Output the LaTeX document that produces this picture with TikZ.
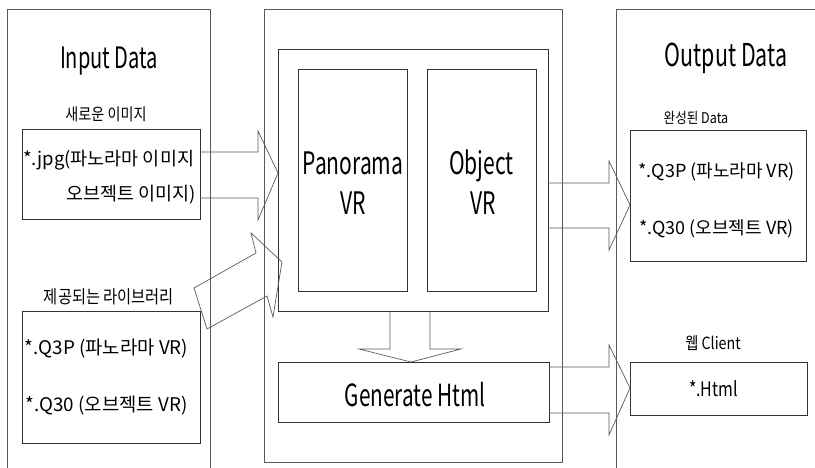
\documentclass[tikz,border=0pt]{standalone}
\usepackage{fontspec}
\setmainfont{Noto Sans CJK KR}
\newfontfamily\ttlfont[FakeStretch=0.68]{Noto Sans CJK KR}
\newfontfamily\lblfont[FakeStretch=0.85]{Noto Sans CJK KR}
\newfontfamily\htmfont[FakeStretch=0.8]{Noto Sans CJK KR}
\begin{document}
\begin{tikzpicture}[x=1pt,y=-1pt,
  panel/.style={draw=black!65, line width=0.7pt},
  box/.style={draw=black!80, line width=0.8pt, rectangle, inner sep=0pt},
  barrow/.style={draw=black!65, line width=0.7pt, line join=miter},
  ttl/.style={font=\ttlfont\fontsize{31}{33}\selectfont, anchor=base, inner sep=0pt},
  lbl/.style={font=\lblfont\fontsize{16}{18}\selectfont, anchor=base, inner sep=0pt},
  txt/.style={font=\fontsize{18.5}{20}\selectfont, anchor=base, inner sep=0pt}]
\useasboundingbox (0,0) rectangle (815,468);
% panels
\draw[panel] (7,468) -- (7,9) -- (210,9) -- (210,468);
\node[panel, rectangle, minimum width=298pt, minimum height=453pt, inner sep=0pt] (mid) at (413,235.5) {};
\draw[panel] (616,468) -- (616,9) -- (815,9);
% boxes
\node[box, minimum width=178pt, minimum height=90pt] (jpg) at (111,174.5) {};
\node[box, minimum width=178pt, minimum height=132pt] (lib) at (111,377) {};
\node[box, minimum width=270pt, minimum height=262pt] (vr) at (413,180) {};
\node[box, minimum width=109pt, minimum height=222pt] (pano) at (352.5,180) {};
\node[box, minimum width=109pt, minimum height=222pt] (obj) at (481.5,180) {};
\node[box, minimum width=271pt, minimum height=60pt] (gen) at (413.5,392) {};
\node[box, minimum width=176pt, minimum height=131pt] (done) at (718,195.5) {};
\node[box, minimum width=177pt, minimum height=53pt] (html) at (718.5,388.5) {};
% block arrows
\draw[barrow] (200,152) -- (258,152) -- (258,131) -- (278,173) -- (258,220) -- (258,198) -- (200,198);
\draw[barrow] (194,288) -- (256,253) -- (251,233) -- (282,262) -- (273,317) -- (267,296) -- (207,329) -- cycle;
\draw[barrow] (548,183) -- (609,183) -- (609,161) -- (630,205) -- (609,250) -- (609,228) -- (548,228);
\draw[barrow] (390,311) -- (390,349) -- (359,349) -- (411,362) -- (461,349) -- (430,349) -- (430,311);
\draw[barrow] (549,367) -- (609,367) -- (609,345) -- (630,388) -- (609,435) -- (609,413) -- (549,413);
% titles
\node[ttl, font=\ttlfont\fontsize{29.5}{32}\selectfont] (tin) at (109,69) {Input Data};
\node[ttl, font=\ttlfont\fontsize{31.5}{33}\selectfont] (tout) at (726,67) {Output Data};
\node[ttl] (tpano1) at (353,175) {Panorama};
\node[ttl] (tpano2) at (353,215) {VR};
\node[ttl] (tobj1) at (481.5,175) {Object};
\node[ttl] (tobj2) at (483,215) {VR};
\node[ttl, font=\ttlfont\fontsize{30.5}{32}\selectfont] (tgen) at (415,406.5) {Generate Html};
% labels
\node[lbl, font=\lblfont\fontsize{16.6}{18}\selectfont] (lnew) at (106,121) {새로운 이미지};
\node[lbl, font=\lblfont\fontsize{18}{19}\selectfont] (llib) at (109,304) {제공되는 라이브러리};
\node[lbl, font=\lblfont\fontsize{14.8}{17}\selectfont] (ldone) at (696,124) {완성된 Data};
\node[lbl, font=\lblfont\fontsize{16.8}{18}\selectfont] (lweb) at (713,349) {웹 Client};
% box texts
\node[txt, anchor=base west] (j1) at (23,166) {*.jpg(파노라마 이미지};
\node[txt, anchor=base east] (j2) at (196,201) {오브젝트 이미지)};
\node[txt, font=\fontsize{18.8}{20}\selectfont] (l1) at (106.5,354) {*.Q3P (파노라마 VR)};
\node[txt, font=\fontsize{18.8}{20}\selectfont] (l2) at (106.5,411) {*.Q30 (오브젝트 VR)};
\node[txt, font=\fontsize{18}{20}\selectfont] (o1) at (716.5,178) {*.Q3P (파노라마 VR)};
\node[txt, font=\fontsize{18}{20}\selectfont] (o2) at (716.5,235) {*.Q30 (오브젝트 VR)};
\node[txt, font=\htmfont\fontsize{20}{22}\selectfont] (h1) at (713.5,396) {*.Html};
\end{tikzpicture}
\end{document}
